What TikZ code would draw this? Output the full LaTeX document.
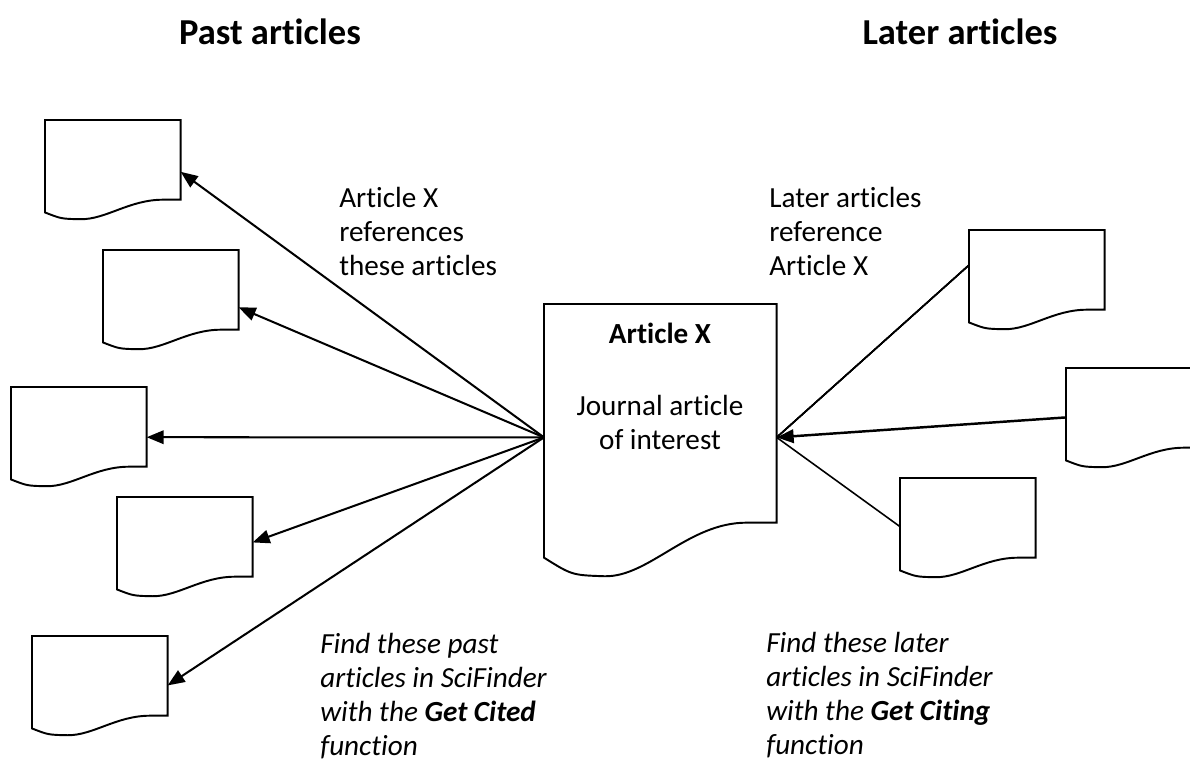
\documentclass[tikz,border=0pt]{standalone}
\usepackage{fontspec}
\setmainfont{Carlito}[Ligatures={NoCommon,NoContextual},Contextuals=NoAlternate,RawFeature=-ccmp]
\usetikzlibrary{arrows.meta,calc,positioning}

% outline of a "document" flowchart shape round a named node
\newcommand{\docoutline}[1]{%
  \draw[docline] let \p1=(#1.north west), \p2=(#1.south east),
    \n1={\x2-\x1}, \n2={\y1-\y2} in
    (\p1) -- (\x2,\y1) -- (\p2) -- ({\x2-0.13*\n1},\y2)
    .. controls ({\x1+0.62*\n1},\y2) and ({\x1+0.45*\n1},{\y2-0.25*\n2})
    .. ({\x1+0.26*\n1},{\y2-0.245*\n2})
    .. controls ({\x1+0.12*\n1},{\y2-0.24*\n2}) .. (\x1,{\y2-0.16*\n2}) -- cycle;}

\tikzset{
  docline/.style={line width=1.1pt, line join=miter},
  doc/.style={rectangle, inner sep=0pt, anchor=north west,
    minimum width=2.7cm, minimum height=1.58cm},
  bigdoc/.style={doc, minimum width=4.64cm, minimum height=4.36cm},
  cite/.style={line width=1.15pt, -{Triangle[length=0.34cm, width=0.27cm]}},
  plain/.style={line width=0.9pt},
  lab/.style={font=\fontsize{16.6}{19.35}\selectfont, align=left, inner sep=0pt},
  head/.style={font=\fontsize{20.8}{25}\selectfont\bfseries, inner sep=0pt}
}

\begin{document}
\begin{tikzpicture}[x=0.02cm, y=-0.02cm]
  \useasboundingbox (0,0) rectangle (1190,765);

  % headings
  \node[head] (pasthead) at (270,32) {Past articles};
  \node[head] (laterhead) at (960,32) {Later articles};

  % article X in the middle
  \node[bigdoc] (artX) at (544,304) {};
  \docoutline{artX}
  \node[lab, font=\fontsize{16.6}{19.35}\selectfont\bfseries] (xtitle) at (660,333) {Article X};
  \node[lab, align=center] (xdesc) at (660,422) {Journal article\\of interest};
  \coordinate (xin) at ($(artX.north west)!0.61!(artX.south west)$);
  \coordinate (xout) at ($(artX.north east)!0.61!(artX.south east)$);

  % past articles
  \node[doc] (past1) at (45,120) {};
  \node[doc] (past2) at (103,250) {};
  \node[doc] (past3) at (11,387) {};
  \node[doc] (past4) at (117,497) {};
  \node[doc] (past5) at (32,636) {};
  \foreach \d/\f in {past1/0.65, past2/0.72, past3/0.63, past4/0.57, past5/0.62}
    {
      \docoutline{\d}
      \draw[cite] (xin) -- ($(\d.north east)!\f!(\d.south east)$);
    }

  % later articles
  \node[doc] (later1) at (969,230) {};
  \node[doc] (later2) at (1066,368) {};
  \node[doc] (later3) at (900,478) {};
  \foreach \d in {later1, later2, later3}
    \docoutline{\d}
  \draw[plain] ($(later1.north west)!0.44!(later1.south west)$) -- (xout);
  \draw[cite, line width=1.4pt] ($(later2.north west)!0.62!(later2.south west)$) -- (xout);
  \draw[plain] ($(later3.north west)!0.61!(later3.south west)$) -- (xout);

  % notes
  \node[lab, anchor=north west] (refnote) at (339,187)
    {Article X\\references\\these articles};
  \node[lab, anchor=north west] (citenote) at (769,187)
    {Later articles\\reference\\Article X};
  \node[lab, anchor=north west, font=\fontsize{16.6}{19.35}\selectfont\itshape] (pastnote) at (320,633)
    {Find these past\\articles in SciFinder\\with the \textbf{Get Cited}\\function};
  \node[lab, anchor=north west, font=\fontsize{16.6}{19.35}\selectfont\itshape] (laternote) at (766,632)
    {Find these later\\articles in SciFinder\\with the \textbf{Get Citing}\\function};
\end{tikzpicture}
\end{document}
